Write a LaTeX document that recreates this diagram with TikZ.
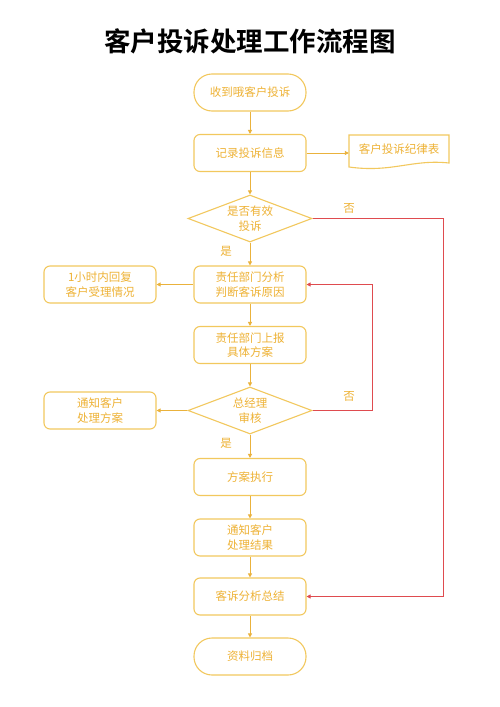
\documentclass[tikz,border=0pt]{standalone}
\usepackage{fontspec}
\setmainfont{Noto Sans CJK SC}
\newfontfamily\cjk{Noto Sans CJK SC}
\newfontfamily\cjkbold{Noto Sans CJK SC Bold}
\usetikzlibrary{shapes.geometric,arrows.meta}
\definecolor{gline}{HTML}{F2C85E}
\definecolor{gtext}{HTML}{EEB235}
\definecolor{garrow}{HTML}{EAB23C}
\definecolor{rline}{HTML}{DF4B4F}
\tikzset{
  base/.style={font=\cjk\fontsize{11.5}{14.5}\selectfont, text=gtext, align=center, inner sep=0pt},
  procbox/.style={base, draw=gline, line width=1.1pt, rounded corners=6pt, minimum width=112pt, minimum height=37pt},
  termbox/.style={base, draw=gline, line width=1.1pt, rounded corners=18pt, minimum width=112pt, minimum height=37pt},
  decbox/.style={base, draw=gline, line width=1.1pt, shape=diamond, aspect=2.64, minimum width=124pt, minimum height=47pt},
  flow/.style={draw=garrow, line width=0.9pt, -{Triangle[length=4pt,width=4pt]}},
  back/.style={draw=rline, line width=1pt, -{Triangle[length=4pt,width=4pt]}},
  lbl/.style={base}
}
\begin{document}
\begin{tikzpicture}[x=1pt,y=-1pt]
\useasboundingbox (0,0) rectangle (500,707);
\fill[white] (0,0) rectangle (500,707);
\node[font=\cjkbold\fontsize{26.5}{30}\selectfont, text=black, inner sep=0pt] (title) at (250,41) {客户投诉处理工作流程图};
\node[termbox] (start) at (250,92.5) {收到哦客户投诉};
\node[procbox] (rec) at (250,153) {记录投诉信息};
\node[base, minimum width=100pt, minimum height=33pt] (doc) at (399,149) {客户投诉纪律表};
\draw[gline, line width=1.1pt] (349,135) -- (449,135) -- (449,163) .. controls (412,159) and (392,173) .. (349,167) -- cycle;
\node[decbox] (d1) at (250,218.5) {是否有效\\投诉};
\node[procbox] (a1) at (250,284.5) {责任部门分析\\判断客诉原因};
\node[procbox] (r1) at (100,284.5) {1小时内回复\\客户受理情况};
\node[procbox] (a2) at (250,345) {责任部门上报\\具体方案};
\node[decbox] (d2) at (250,410.5) {总经理\\审核};
\node[procbox] (r2) at (100,410.5) {通知客户\\处理方案};
\node[procbox] (ex) at (250,477) {方案执行};
\node[procbox] (n1) at (250,537.5) {通知客户\\处理结果};
\node[procbox] (sum) at (250,596.5) {客诉分析总结};
\node[termbox] (fin) at (250,656.5) {资料归档};
\coordinate (c1) at (443,218.5);
\coordinate (c2) at (443,596.5);
\coordinate (c3) at (372,410.5);
\coordinate (c4) at (372,284.5);
\draw[flow] (start) -- (rec);
\draw[flow] (rec.east) -- (rec.east -| doc.west);
\draw[flow] (rec) -- (d1);
\draw[flow] (d1) -- (a1);
\draw[flow] (a1) -- (r1);
\draw[flow] (a1) -- (a2);
\draw[flow] (a2) -- (d2);
\draw[flow] (d2) -- (r2);
\draw[flow] (d2) -- (ex);
\draw[flow] (ex) -- (n1);
\draw[flow] (n1) -- (sum);
\draw[flow] (sum) -- (fin);
\draw[back] (d1.east) -- (c1) -- (c2) -- (sum.east);
\draw[back] (d2.east) -- (c3) -- (c4) -- (a1.east);
\node[lbl] (y1) at (226,251) {是};
\node[lbl] (n1l) at (349,208) {否};
\node[lbl] (y2) at (226,443) {是};
\node[lbl] (n2l) at (349,396.5) {否};
\end{tikzpicture}
\end{document}
